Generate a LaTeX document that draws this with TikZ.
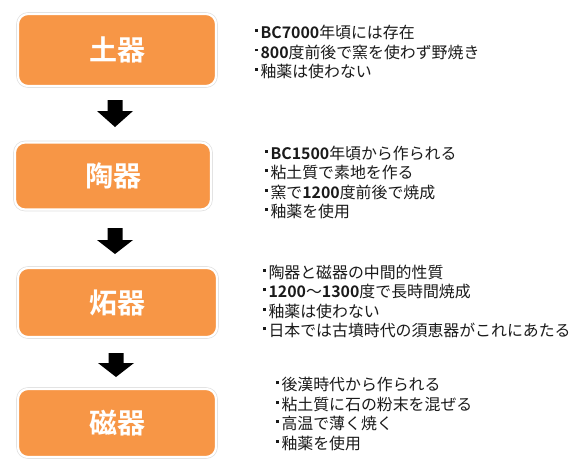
\documentclass[tikz,border=0pt]{standalone}
\usepackage{fontspec}
\setmainfont{Noto Sans CJK JP}[BoldFont={Noto Sans CJK JP Bold}]
\definecolor{boxorange}{HTML}{F79646}
\definecolor{txtgray}{HTML}{1A1A1A}
\newcommand\bul{\rule[0.42em]{2.8pt}{2.8pt}\hspace{2.5pt}}
\newcommand\nb[1]{\textbf{#1}}
\newcommand\blockarr[3]{\fill[blockarrow] (#1) ++(-7.5,0) -- ++(15,0) -- ++(0,#2) -- ++(10.5,0) -- ++(-18,#3) -- ++(-18,-#3) -- ++(10.5,0) -- cycle;}
\begin{document}
\begin{tikzpicture}[x=1pt,y=-1pt,
  stage/.style={rounded corners=10pt, fill=boxorange, draw=white, line width=2.2pt,
    minimum width=198pt, minimum height=72pt, inner sep=0pt, text=white,
    font=\bfseries\fontsize{28}{30}\selectfont,
    preaction={draw=black!12, line width=3.6pt}},
  notes/.style={anchor=west, align=left, inner sep=0pt, text=txtgray,
    font=\fontsize{15.9}{19.5}\selectfont},
  blockarrow/.style={fill=black}]
\fill[white] (0,0) rectangle (583,469);
\useasboundingbox (0,0) rectangle (583,469);

\node[stage] (s1) at (117,50) {土器};
\node[stage, minimum width=196pt, minimum height=67pt] (s2) at (113,176) {陶器};
\node[stage, minimum width=199pt, minimum height=69pt] (s3) at (117.5,302.5) {炻器};
\node[stage, minimum height=68pt] (s4) at (117,423) {磁器};

\coordinate (a1) at (115,100);
\coordinate (a2) at (115,228);
\coordinate (a3) at (116,353);
\blockarr{a1}{11}{16}
\blockarr{a2}{12}{14}
\blockarr{a3}{10}{14}

\node[notes] (n1) at (255,52) {\bul\nb{BC7000}年頃には存在\\\bul\nb{800}度前後で窯を使わず野焼き\\\bul 釉薬は使わない};
\node[notes] (n2) at (265,182.5) {\bul\nb{BC1500}年頃から作られる\\\bul 粘土質で素地を作る\\\bul 窯で\nb{1200}度前後で焼成\\\bul 釉薬を使用};
\node[notes] (n3) at (263,301.5) {\bul 陶器と磁器の中間的性質\\\bul\nb{1200}～\nb{1300}度で長時間焼成\\\bul 釉薬は使わない\\\bul 日本では古墳時代の須恵器がこれにあたる};
\node[notes] (n4) at (276,414) {\bul 後漢時代から作られる\\\bul 粘土質に石の粉末を混ぜる\\\bul 高温で薄く焼く\\\bul 釉薬を使用};
\end{tikzpicture}
\end{document}
